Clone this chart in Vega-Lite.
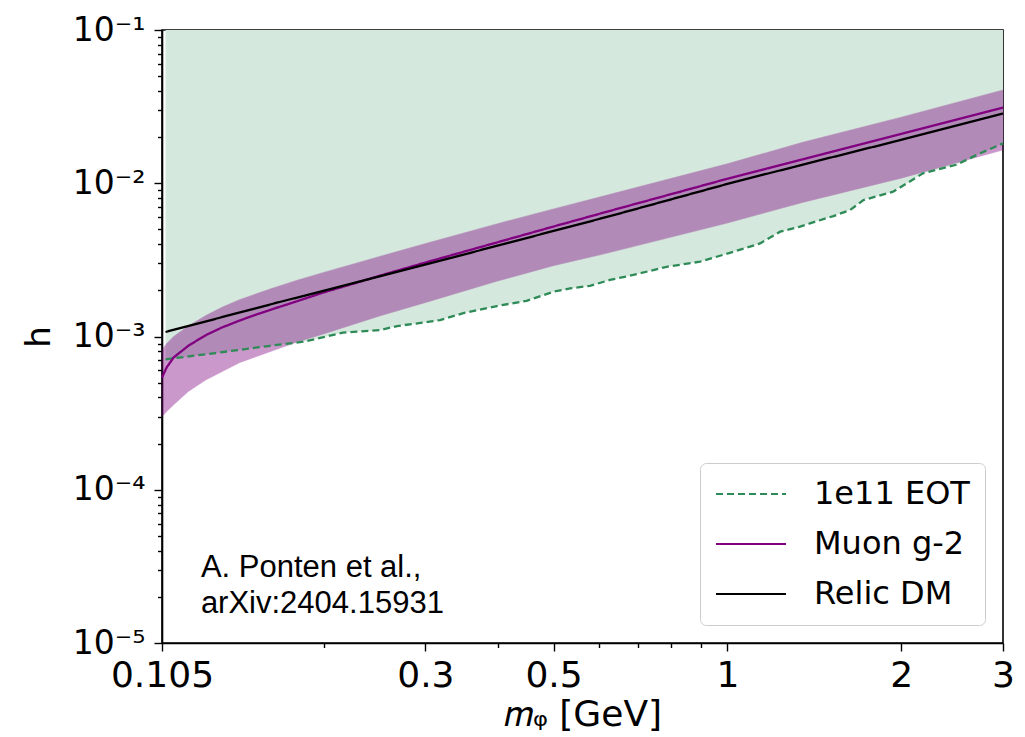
{
  "$schema": "https://vega.github.io/schema/vega-lite/v6.json",
  "autosize": "none",
  "width": 841,
  "height": 613,
  "padding": {"left": 162, "top": 30, "right": 22, "bottom": 94},
  "background": "white",
  "config": {
    "view": {"stroke": "black", "strokeWidth": 1.6},
    "axis": {
      "grid": false,
      "domainColor": "black",
      "domainWidth": 1.6,
      "tickColor": "black",
      "tickWidth": 1.4,
      "labelColor": "black",
      "titleColor": "black",
      "labelFont": "DejaVu Sans",
      "titleFont": "DejaVu Sans",
      "titleFontWeight": "normal",
      "labelFlush": false,
      "labelOverlap": false,
      "labelBound": false
    }
  },
  "datasets": {
    "lines": [
      {"series": "1e11 EOT", "m": 0.1065, "h": 0.00071},
      {"series": "1e11 EOT", "m": 0.13, "h": 0.00078},
      {"series": "1e11 EOT", "m": 0.1615, "h": 0.00087},
      {"series": "1e11 EOT", "m": 0.1845, "h": 0.000925},
      {"series": "1e11 EOT", "m": 0.2, "h": 0.00099},
      {"series": "1e11 EOT", "m": 0.216, "h": 0.00106},
      {"series": "1e11 EOT", "m": 0.25, "h": 0.0011},
      {"series": "1e11 EOT", "m": 0.268, "h": 0.00117},
      {"series": "1e11 EOT", "m": 0.305, "h": 0.00125},
      {"series": "1e11 EOT", "m": 0.318, "h": 0.00128},
      {"series": "1e11 EOT", "m": 0.349, "h": 0.00142},
      {"series": "1e11 EOT", "m": 0.399, "h": 0.00158},
      {"series": "1e11 EOT", "m": 0.449, "h": 0.00171},
      {"series": "1e11 EOT", "m": 0.5, "h": 0.00196},
      {"series": "1e11 EOT", "m": 0.534, "h": 0.00206},
      {"series": "1e11 EOT", "m": 0.578, "h": 0.00214},
      {"series": "1e11 EOT", "m": 0.626, "h": 0.00234},
      {"series": "1e11 EOT", "m": 0.687, "h": 0.00252},
      {"series": "1e11 EOT", "m": 0.785, "h": 0.00285},
      {"series": "1e11 EOT", "m": 0.897, "h": 0.00308},
      {"series": "1e11 EOT", "m": 1.024, "h": 0.00357},
      {"series": "1e11 EOT", "m": 1.139, "h": 0.00405},
      {"series": "1e11 EOT", "m": 1.234, "h": 0.00483},
      {"series": "1e11 EOT", "m": 1.336, "h": 0.00521},
      {"series": "1e11 EOT", "m": 1.39, "h": 0.00548},
      {"series": "1e11 EOT", "m": 1.526, "h": 0.00611},
      {"series": "1e11 EOT", "m": 1.63, "h": 0.00668},
      {"series": "1e11 EOT", "m": 1.72, "h": 0.00777},
      {"series": "1e11 EOT", "m": 1.936, "h": 0.00881},
      {"series": "1e11 EOT", "m": 2.18, "h": 0.0116},
      {"series": "1e11 EOT", "m": 2.49, "h": 0.0132},
      {"series": "1e11 EOT", "m": 2.74, "h": 0.0157},
      {"series": "1e11 EOT", "m": 3.0, "h": 0.0182},
      {"series": "Muon g-2", "m": 0.105, "h": 0.00054},
      {"series": "Muon g-2", "m": 0.107, "h": 0.00063},
      {"series": "Muon g-2", "m": 0.11, "h": 0.00073},
      {"series": "Muon g-2", "m": 0.1166, "h": 0.00087},
      {"series": "Muon g-2", "m": 0.125, "h": 0.00102},
      {"series": "Muon g-2", "m": 0.133, "h": 0.00114},
      {"series": "Muon g-2", "m": 0.143, "h": 0.00127},
      {"series": "Muon g-2", "m": 0.152, "h": 0.00138},
      {"series": "Muon g-2", "m": 0.165, "h": 0.00153},
      {"series": "Muon g-2", "m": 0.18, "h": 0.0017},
      {"series": "Muon g-2", "m": 0.2, "h": 0.00194},
      {"series": "Muon g-2", "m": 0.224, "h": 0.0022},
      {"series": "Muon g-2", "m": 0.26, "h": 0.0026},
      {"series": "Muon g-2", "m": 0.3057, "h": 0.0031},
      {"series": "Muon g-2", "m": 0.4, "h": 0.00412},
      {"series": "Muon g-2", "m": 0.5, "h": 0.00522},
      {"series": "Muon g-2", "m": 0.626, "h": 0.0066},
      {"series": "Muon g-2", "m": 1.0, "h": 0.0107},
      {"series": "Muon g-2", "m": 1.336, "h": 0.0142},
      {"series": "Muon g-2", "m": 2.0, "h": 0.021},
      {"series": "Muon g-2", "m": 3.0, "h": 0.0312},
      {"series": "Relic DM", "m": 0.1065, "h": 0.00107},
      {"series": "Relic DM", "m": 0.1648, "h": 0.00165},
      {"series": "Relic DM", "m": 0.3057, "h": 0.003},
      {"series": "Relic DM", "m": 0.626, "h": 0.0061},
      {"series": "Relic DM", "m": 1.0, "h": 0.0099},
      {"series": "Relic DM", "m": 1.336, "h": 0.0131},
      {"series": "Relic DM", "m": 2.0, "h": 0.0192},
      {"series": "Relic DM", "m": 3.0, "h": 0.0285}
    ],
    "band": [
      {"m": 0.105, "lo": 0.0003, "hi": 0.00082},
      {"m": 0.107, "lo": 0.000324, "hi": 0.0009},
      {"m": 0.11, "lo": 0.000358, "hi": 0.001},
      {"m": 0.1166, "lo": 0.000437, "hi": 0.00117},
      {"m": 0.125, "lo": 0.00052, "hi": 0.00137},
      {"m": 0.1333, "lo": 0.000589, "hi": 0.00155},
      {"m": 0.143, "lo": 0.000675, "hi": 0.00174},
      {"m": 0.1615, "lo": 0.000796, "hi": 0.00204},
      {"m": 0.18, "lo": 0.00092, "hi": 0.00233},
      {"m": 0.2, "lo": 0.00104, "hi": 0.00262},
      {"m": 0.25, "lo": 0.00136, "hi": 0.00333},
      {"m": 0.3057, "lo": 0.0017, "hi": 0.00412},
      {"m": 0.4, "lo": 0.0023, "hi": 0.00545},
      {"m": 0.5, "lo": 0.0029, "hi": 0.0068},
      {"m": 0.61, "lo": 0.00345, "hi": 0.00825},
      {"m": 1.0, "lo": 0.0055, "hi": 0.0134},
      {"m": 1.35, "lo": 0.0075, "hi": 0.0185},
      {"m": 2.0, "lo": 0.0108, "hi": 0.027},
      {"m": 3.0, "lo": 0.0165, "hi": 0.0406}
    ],
    "notes": [
      {"m": 0.1226, "h": 0.000027, "label": "A. Ponten et al.,"},
      {"m": 0.1226, "h": 0.0000157, "label": "arXiv:2404.15931"}
    ]
  },
  "resolve": {"axis": {"x": "independent", "y": "independent"}},
  "layer": [
    {
      "data": {"name": "lines"},
      "transform": [{"filter": "datum.series === '1e11 EOT'"}],
      "mark": {"type": "area", "color": "#d5e8dd", "opacity": 1},
      "encoding": {
        "x": {
          "field": "m", "type": "quantitative",
          "scale": {"type": "log", "domain": [0.105, 3], "nice": false, "zero": false},
          "axis": {
            "orient": "bottom",
            "values": [0.105, 0.3, 0.5, 1, 2, 3],
            "format": "~g",
            "tickSize": 8,
            "labelFontSize": 36,
            "labelPadding": 7,
            "title": "𝑚ᵩ [GeV]",
            "titleFontSize": 36,
            "titlePadding": 4
          }
        },
        "y": {
          "field": "h", "type": "quantitative",
          "scale": {"type": "log", "domain": [0.00001, 0.1], "nice": false, "zero": false},
          "axis": {
            "orient": "left",
            "values": [0.00001, 0.0001, 0.001, 0.01, 0.1],
            "labelExpr": "datum.value >= 0.09 ? '10⁻¹' : datum.value >= 0.009 ? '10⁻²' : datum.value >= 0.0009 ? '10⁻³' : datum.value >= 0.00009 ? '10⁻⁴' : '10⁻⁵'",
            "tickSize": 8,
            "labelFontSize": 33,
            "labelPadding": 9,
            "title": "h",
            "titleFontSize": 34,
            "titlePadding": 16
          }
        },
        "y2": {"datum": 0.1}
      }
    },
    {
      "data": {"name": "band"},
      "mark": {"type": "area", "color": "#800080", "opacity": 0.4, "stroke": "#800080", "strokeWidth": 1, "strokeOpacity": 0.5},
      "encoding": {
        "x": {
          "field": "m", "type": "quantitative",
          "axis": {
            "orient": "bottom",
            "values": [0.2, 0.4, 0.6, 0.7, 0.8, 0.9],
            "labels": false, "domain": false, "tickSize": 4.5, "title": null
          }
        },
        "y": {
          "field": "lo", "type": "quantitative",
          "axis": {
            "orient": "left",
            "values": [0.00002, 0.00003, 0.00004, 0.00005, 0.00006, 0.00007, 0.00008, 0.00009,
                       0.0002, 0.0003, 0.0004, 0.0005, 0.0006, 0.0007, 0.0008, 0.0009,
                       0.002, 0.003, 0.004, 0.005, 0.006, 0.007, 0.008, 0.009,
                       0.02, 0.03, 0.04, 0.05, 0.06, 0.07, 0.08, 0.09],
            "labels": false, "domain": false, "tickSize": 4.5, "title": null
          }
        },
        "y2": {"field": "hi"}
      }
    },
    {
      "data": {"name": "lines"},
      "mark": {"type": "line", "strokeWidth": 2.3},
      "encoding": {
        "x": {"field": "m", "type": "quantitative", "axis": null},
        "y": {"field": "h", "type": "quantitative", "axis": null},
        "color": {
          "field": "series", "type": "nominal",
          "scale": {"domain": ["1e11 EOT", "Muon g-2", "Relic DM"], "range": ["#2e8b57", "#800080", "#000000"]},
          "legend": {
            "title": null,
            "orient": "bottom-right",
            "offset": 18,
            "padding": 15,
            "strokeColor": "#cccccc",
            "fillColor": "#ffffff",
            "cornerRadius": 6,
            "symbolType": "M-7,0H7",
            "symbolSize": 100,
            "symbolStrokeWidth": 2,
            "symbolOffset": 20,
            "labelFont": "DejaVu Sans",
            "labelFontSize": 32,
            "labelColor": "black",
            "labelOffset": 47,
            "rowPadding": 18
          }
        },
        "strokeDash": {
          "field": "series", "type": "nominal",
          "scale": {"domain": ["1e11 EOT", "Muon g-2", "Relic DM"], "range": [[7, 4], [1, 0], [1, 0]]}
        }
      }
    },
    {
      "data": {"name": "notes"},
      "mark": {"type": "text", "align": "left", "baseline": "alphabetic", "font": "Liberation Sans", "fontSize": 31, "color": "black"},
      "encoding": {
        "x": {"field": "m", "type": "quantitative", "axis": null},
        "y": {"field": "h", "type": "quantitative", "axis": null},
        "text": {"field": "label", "type": "nominal"}
      }
    }
  ]
}
